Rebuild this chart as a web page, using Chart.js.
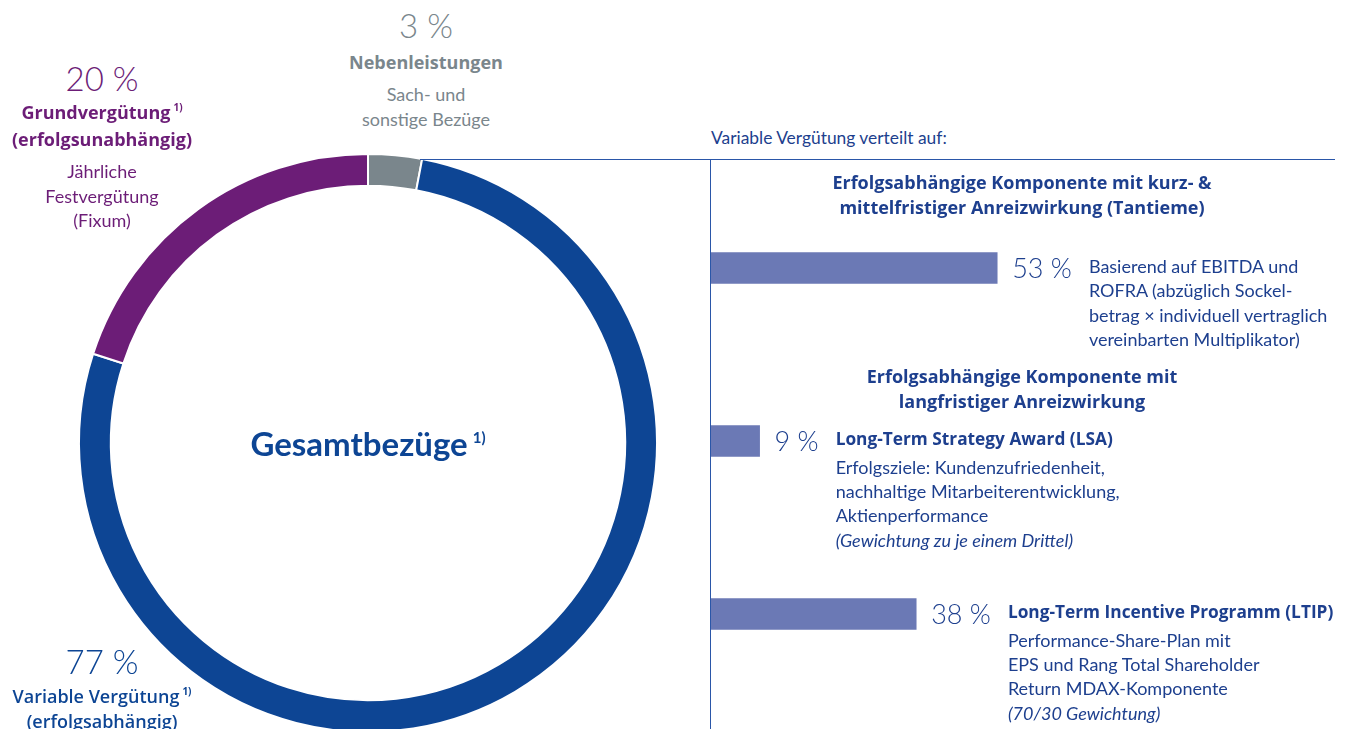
<!DOCTYPE html>
<html lang="de">
<head>
<meta charset="utf-8">
<script src="https://cdn.jsdelivr.net/npm/chart.js@4.4.1/dist/chart.umd.min.js"></script>
<style>
  html, body { margin: 0; padding: 0; background: #fff; }
  body { width: 1345px; height: 729px; overflow: hidden; position: relative; font-family: Lato, "Noto Sans", sans-serif; color: #1d3f8e; }
  .abs { position: absolute; }
  .c { text-align: center; transform: translateX(-50%); white-space: nowrap; }
  .big { font-size: 33px; font-weight: 300; line-height: 36px; }
  .txt { font-size: 18px; line-height: 24.5px; white-space: nowrap; }
  .b { font-family: "Open Sans", Lato, sans-serif; font-weight: 700; font-size: 18px; }
  .i { font-style: italic; }
  sup { font-size: 10px; vertical-align: 8px; line-height: 0; font-weight: 700; margin-left: 3px; }
  .grau { color: #7a868c; }
  .lila { color: #6c1d77; }
  .blau { color: #0d4594; }
  #ringBox { position: absolute; left: 68px; top: 143px; width: 600px; height: 600px; }
  #barBox { position: absolute; left: 711px; top: 160px; width: 634px; height: 569px; }
  .pct { position: absolute; font-size: 27px; font-weight: 300; line-height: 30px; color: #1d3f8e; white-space: nowrap; transform: translateY(-50%); }
  .desc { position: absolute; font-size: 18px; line-height: 24.4px; white-space: nowrap; color: #1d3f8e; }
  .desc .tit { font-family: "Open Sans", Lato, sans-serif; font-weight: 700; font-size: 17.3px; line-height: 24.5px; margin-bottom: 3px; }
</style>
</head>
<body>

<div id="ringBox"><canvas id="ring" width="600" height="600"></canvas></div>
<div id="barBox"><canvas id="bars" width="634" height="569"></canvas></div>

<!-- Linien rechts -->
<div class="abs" style="left:420px; top:159px; width:915px; height:0; border-top:1.5px solid #2a56a8;"></div>
<div class="abs" style="left:710px; top:159px; width:0; height:570px; border-left:1.5px solid #2a56a8;"></div>

<!-- Beschriftungen Ring -->
<div class="abs c grau big" style="left:426px; top:7px;">3 %</div>
<div class="abs c grau txt b" style="left:426px; top:50px;">Nebenleistungen</div>
<div class="abs c grau txt" style="left:426px; top:82px;">Sach- und<br>sonstige Bezüge</div>

<div class="abs c lila big" style="left:102px; top:60px;">20 %</div>
<div class="abs c lila txt b" style="left:102px; top:99px; line-height:27px;">Grundvergütung<sup>1)</sup><br>(erfolgsunabhängig)</div>
<div class="abs c lila txt" style="left:102px; top:159px;">Jährliche<br>Festvergütung<br>(Fixum)</div>

<div class="abs c blau" style="left:368px; top:423px; font-size:33px; line-height:40px; font-weight:700;">Gesamtbezüge<sup style="font-size:15px; vertical-align:13px; margin-left:5px;">1)</sup></div>

<div class="abs c blau big" style="left:102px; top:643px;">77 %</div>
<div class="abs c blau txt" style="left:102px; top:684px; line-height:25px; font-family:'Open Sans', Lato, sans-serif; font-weight:600; font-size:18px;">Variable Vergütung<sup>1)</sup><br>(erfolgsabhängig)</div>

<!-- Beschriftungen rechts -->
<div class="abs txt" style="left:711px; top:126px; font-size:17.4px;">Variable Vergütung verteilt auf:</div>
<div class="abs c txt b" style="left:1022px; top:170px;">Erfolgsabhängige Komponente mit kurz- &amp;<br>mittelfristiger Anreizwirkung (Tantieme)</div>
<div class="abs c txt b" style="left:1022px; top:364px;">Erfolgsabhängige Komponente mit<br>langfristiger Anreizwirkung</div>

<script>
const ringLabels = ['Nebenleistungen', 'Variable Vergütung', 'Grundvergütung'];
const ringValues = [3, 77, 20];
const ringColors = ['#7a868c', '#0d4594', '#6c1d77'];

const barLabels = ['Tantieme', 'LSA', 'LTIP'];
const barValues = [53, 9, 38];
const barMax = 100;

// Texte neben den Balken (erste Zeile ggf. fett als Titel)
const barTitles = ['', 'Long-Term Strategy Award (LSA)', 'Long-Term Incentive Programm (LTIP)'];
const barTexts = [
  ['Basierend auf EBITDA und', 'ROFRA (abzüglich Sockel-', 'betrag × individuell vertraglich', 'vereinbarten Multiplikator)'],
  ['Erfolgsziele: Kundenzufriedenheit,', 'nachhaltige Mitarbeiterentwicklung,', 'Aktienperformance', '<i>(Gewichtung zu je einem Drittel)</i>'],
  ['Performance-Share-Plan mit', 'EPS und Rang Total Shareholder', 'Return MDAX-Komponente', '<i>(70/30 Gewichtung)</i>']
];

new Chart(document.getElementById('ring'), {
  type: 'doughnut',
  data: {
    labels: ringLabels,
    datasets: [{
      data: ringValues,
      backgroundColor: ringColors,
      borderColor: '#ffffff',
      borderWidth: 2
    }]
  },
  options: {
    responsive: false,
    animation: false,
    cutout: '89%',
    layout: { padding: 10 },
    plugins: { legend: { display: false }, tooltip: { enabled: false } }
  }
});

// Prozentwerte + Beschreibung an Balkenende setzen
const labelPlugin = {
  id: 'barTexte',
  afterDatasetsDraw(chart) {
    if (chart._textDone) return;
    chart._textDone = true;
    const box = document.getElementById('barBox');
    const meta = chart.getDatasetMeta(0);
    meta.data.forEach((bar, i) => {
      const x0 = box.offsetLeft + bar.x;
      const y0 = box.offsetTop + bar.y;
      const p = document.createElement('div');
      p.className = 'pct';
      p.textContent = barValues[i] + ' %';
      p.style.left = (x0 + 15) + 'px';
      p.style.top = y0 + 'px';
      document.body.appendChild(p);
      const w = p.getBoundingClientRect().width;
      const d = document.createElement('div');
      d.className = 'desc';
      let html = '';
      if (barTitles[i]) html += '<div class="tit">' + barTitles[i] + '</div>';
      html += barTexts[i].join('<br>');
      d.innerHTML = html;
      d.style.left = (x0 + 15 + w + 17) + 'px';
      d.style.top = (y0 - 14) + 'px';
      document.body.appendChild(d);
    });
  }
};

new Chart(document.getElementById('bars'), {
  type: 'bar',
  data: {
    labels: barLabels,
    datasets: [{
      data: barValues,
      backgroundColor: '#6b79b5',
      borderWidth: 0,
      barThickness: 31
    }]
  },
  options: {
    indexAxis: 'y',
    responsive: false,
    animation: false,
    layout: { padding: { left: 0, right: 94, top: 21.5, bottom: 28.5 } },
    scales: {
      x: { display: false, min: 0, max: barMax },
      y: { display: false }
    },
    plugins: { legend: { display: false }, tooltip: { enabled: false } }
  },
  plugins: [labelPlugin]
});
</script>
</body>
</html>
